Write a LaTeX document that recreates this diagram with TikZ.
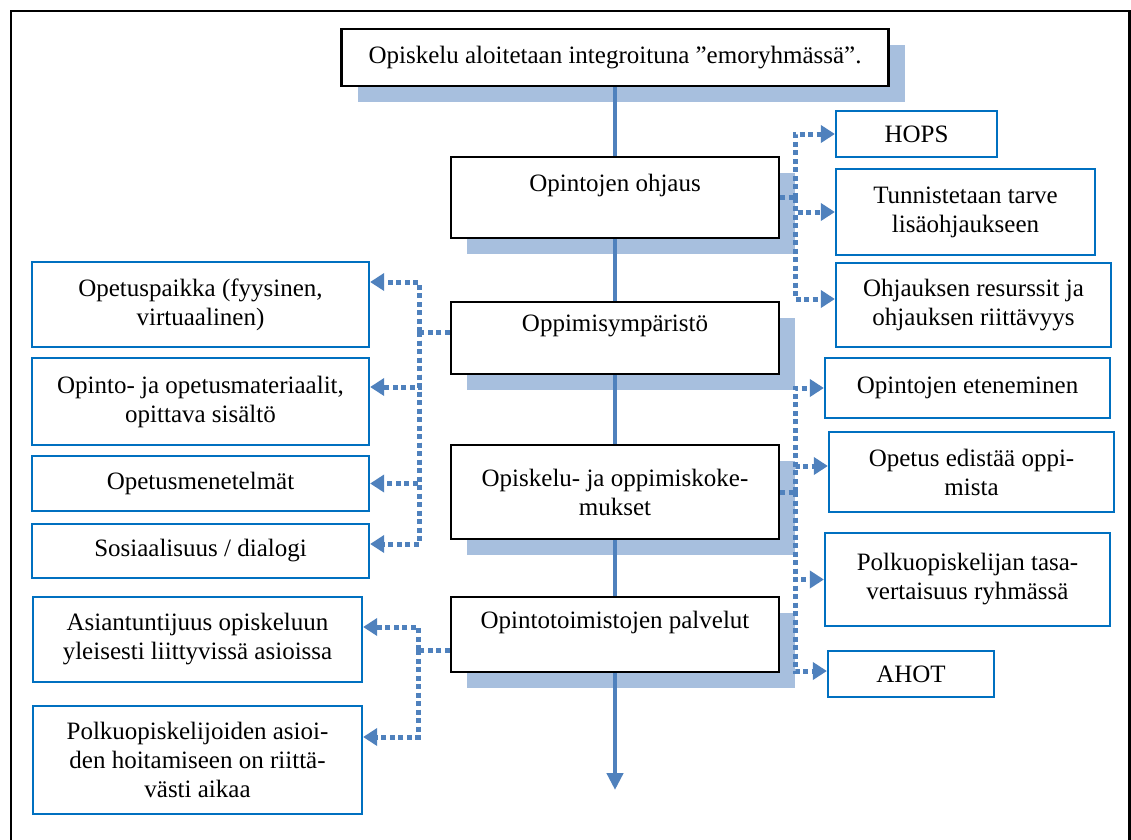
\documentclass[tikz,border=0pt]{standalone}
\usepackage{fontspec}
\setmainfont{Liberation Serif}
\usetikzlibrary{arrows.meta, shadows}

\definecolor{boxblue}{RGB}{0,112,192}
\definecolor{linkblue}{RGB}{79,129,189}
\definecolor{shadeblue}{RGB}{167,191,222}

\tikzset{
  mainbox/.style={draw=black, line width=2.2pt, fill=white, align=center, inner sep=3pt,
    drop shadow={shadow xshift=16pt, shadow yshift=-16pt, fill=shadeblue, draw=none, opacity=1}},
  sidebox/.style={draw=boxblue, line width=2.2pt, fill=white, align=center, inner sep=3pt},
  mainline/.style={draw=linkblue, line width=4.5pt},
  dotline/.style={draw=linkblue, line width=5pt, dash pattern=on 5pt off 3.5pt},
  dotarrow/.style={dotline, -{Triangle[length=14pt,width=17pt]}},
}

\begin{document}
\begin{tikzpicture}[x=1pt, y=-1pt, every node/.style={font=\fontsize{25}{29}\selectfont}]
    \useasboundingbox (0,0) rectangle (1131,839);

    % Frame (open at the bottom)
    \draw[line width=2.5pt] (11,850) -- (11,11) -- (1129.5,11) -- (1129.5,850);

    % Main column
    \node[mainbox, minimum width=547pt, minimum height=57pt] (top) at (615,57.5)
        {Opiskelu aloitetaan integroituna ”emoryhmässä”.};
    \node[mainbox, minimum width=328pt, minimum height=81pt] (ohjaus) at (615,197.5)
        {Opintojen ohjaus\\~};
    \node[mainbox, minimum width=328pt, minimum height=72pt] (ymparisto) at (615,338)
        {Oppimisympäristö\\~};
    \node[mainbox, minimum width=328pt, minimum height=94pt] (kokemukset) at (615,492)
        {Opiskelu- ja oppimiskoke-\\mukset};
    \node[mainbox, minimum width=328pt, minimum height=75pt] (palvelut) at (615,634.5)
        {Opintotoimistojen palvelut\\~};
    \coordinate (loppu) at (615,790);

    \draw[mainline] (top) -- (ohjaus);
    \draw[mainline] (ohjaus) -- (ymparisto);
    \draw[mainline] (ymparisto) -- (kokemukset);
    \draw[mainline] (kokemukset) -- (palvelut);
    \draw[mainline, -{Triangle[length=17pt,width=16pt]}] (palvelut) -- (loppu);

    % Right side boxes
    \node[sidebox, minimum width=161pt, minimum height=46pt] (hops) at (916.5,134) {HOPS};
    \node[sidebox, minimum width=259pt, minimum height=86pt] (tunnistus) at (965.5,212)
        {Tunnistetaan tarve\\lisäohjaukseen};
    \node[sidebox, minimum width=275pt, minimum height=84pt] (resurssit) at (973.5,305)
        {Ohjauksen resurssit ja\\ohjauksen riittävyys};
    \node[sidebox, minimum width=285pt, minimum height=60pt] (eteneminen) at (967.5,388)
        {Opintojen eteneminen};
    \node[sidebox, minimum width=285pt, minimum height=80pt] (edistaa) at (971.5,472)
        {Opetus edistää oppi-\\mista};
    \node[sidebox, minimum width=285pt, minimum height=93pt] (tasa) at (967.5,579.5)
        {Polkuopiskelijan tasa-\\vertaisuus ryhmässä};
    \node[sidebox, minimum width=166pt, minimum height=46pt] (ahot) at (911,674) {AHOT};

    % Left side boxes
    \node[sidebox, minimum width=337pt, minimum height=85pt] (paikka) at (200.5,304.5)
        {Opetuspaikka (fyysinen,\\virtuaalinen)};
    \node[sidebox, minimum width=337pt, minimum height=87pt] (materiaalit) at (200.5,401.5)
        {Opinto- ja opetusmateriaalit,\\opittava sisältö};
    \node[sidebox, minimum width=337pt, minimum height=55pt] (menetelmat) at (200.5,483.5)
        {Opetusmenetelmät};
    \node[sidebox, minimum width=337pt, minimum height=54pt] (sosiaalisuus) at (200.5,551)
        {Sosiaalisuus / dialogi};
    \node[sidebox, minimum width=329pt, minimum height=85pt] (asiantuntijuus) at (197.5,639.5)
        {Asiantuntijuus opiskeluun\\yleisesti liittyvissä asioissa};
    \node[sidebox, minimum width=329pt, minimum height=108pt] (polku) at (197.5,760)
        {Polkuopiskelijoiden asioi-\\den hoitamiseen on riittä-\\västi aikaa};

    % Dotted links, right
    \coordinate (r1) at (795,197.5);
    \draw[dotline] (ohjaus.east) -- (r1);
    \draw[dotarrow] (r1) |- (hops.west);
    \draw[dotarrow] (r1) |- (tunnistus.west);
    \draw[dotarrow] (r1) |- ([yshift=6pt]resurssit.west);

    \coordinate (r2) at (795,492);
    \draw[dotline] (kokemukset.east) -- (r2);
    \draw[dotarrow] (r2) |- (eteneminen.west);
    \draw[dotarrow] (r2) |- ([yshift=6pt]edistaa.west);
    \draw[dotarrow] (r2) |- (tasa.west);
    \draw[dotarrow] (r2) |- ([yshift=3pt]ahot.west);

    % Dotted links, left
    \coordinate (l1) at (419,332);
    \draw[dotline] ([yshift=6pt]ymparisto.west) -- (l1);
    \draw[dotarrow] (l1) |- ([yshift=22.5pt]paikka.east);
    \draw[dotarrow] (l1) |- ([yshift=14.5pt]materiaalit.east);
    \draw[dotarrow] (l1) |- (menetelmat.east);
    \draw[dotarrow] (l1) |- ([yshift=7pt]sosiaalisuus.east);

    \coordinate (l2) at (418,650);
    \draw[dotline] ([yshift=-15.5pt]palvelut.west) -- (l2);
    \draw[dotarrow] (l2) |- ([yshift=12.5pt]asiantuntijuus.east);
    \draw[dotarrow] (l2) |- ([yshift=23pt]polku.east);
\end{tikzpicture}
\end{document}
